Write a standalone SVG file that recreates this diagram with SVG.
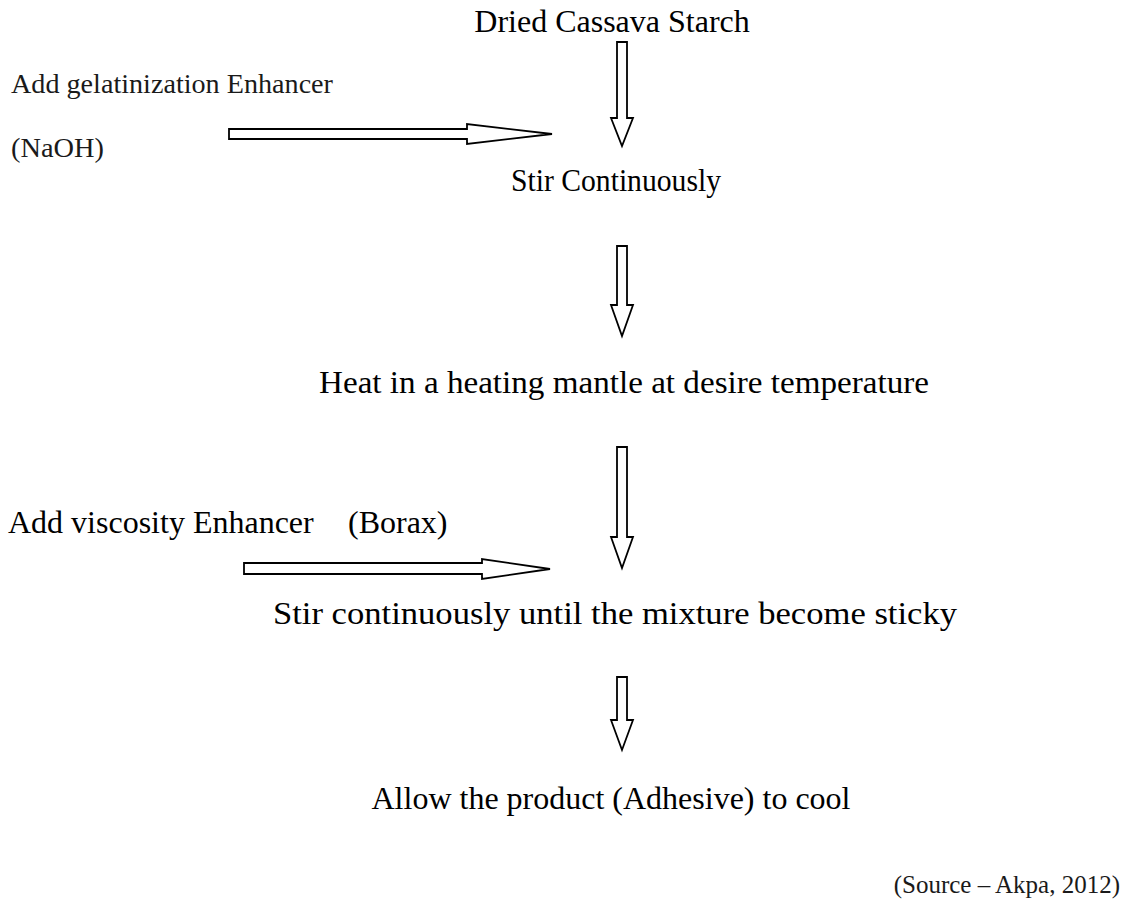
<svg xmlns="http://www.w3.org/2000/svg" width="1130" height="905" viewBox="0 0 1130 905">
<style>
.t{font-family:"Liberation Serif","Times New Roman",serif;font-size:32px;fill:#000}
.g{font-family:"Liberation Serif","Times New Roman",serif;font-size:27px;fill:#1a1a1a}
.s{font-family:"Liberation Serif","Times New Roman",serif;font-size:25px;fill:#1a1a1a}
.c{text-anchor:middle}
.a{fill:#fff;stroke:#000;stroke-width:1.8;stroke-linejoin:miter}
</style>
<rect width="1130" height="905" fill="#fff"/>
<g id="n1"><text class="t c" x="612" y="32">Dried Cassava Starch</text></g>
<g id="n2"><text class="g" x="11" y="93" textLength="322" lengthAdjust="spacingAndGlyphs">Add gelatinization Enhancer</text><text class="g" x="11" y="157" textLength="93" lengthAdjust="spacingAndGlyphs">(NaOH)</text></g>
<g id="n3"><text class="t c" x="616" y="191" textLength="210" lengthAdjust="spacingAndGlyphs">Stir Continuously</text></g>
<g id="n4"><text class="t c" x="624" y="393" textLength="610" lengthAdjust="spacingAndGlyphs">Heat in a heating mantle at desire temperature</text></g>
<g id="n5"><text class="t" x="8" y="533">Add viscosity Enhancer</text><text class="t" x="348" y="533">(Borax)</text></g>
<g id="n6"><text class="t c" x="615" y="624" textLength="684" lengthAdjust="spacingAndGlyphs">Stir continuously until the mixture become sticky</text></g>
<g id="n7"><text class="t c" x="611" y="809">Allow the product (Adhesive) to cool</text></g>
<g id="src"><text class="s" x="1120" y="893" text-anchor="end">(Source – Akpa, 2012)</text></g>
<g id="connectors">
<polygon class="a" points="617,42 627,42 627,118 633,118 622,146 611,118 617,118"/>
<polygon class="a" points="229,129 467,129 467,124 552,134 467,144 467,139 229,139"/>
<polygon class="a" points="617,246 627,246 627,305 633,305 622,336 611,305 617,305"/>
<polygon class="a" points="617,447 627,447 627,537 633,537 622,568 611,537 617,537"/>
<polygon class="a" points="244,563 482,563 482,559 550,569 482,579 482,574 244,574"/>
<polygon class="a" points="617,677 627,677 627,720 633,720 622,750 611,720 617,720"/>
</g>
</svg>
